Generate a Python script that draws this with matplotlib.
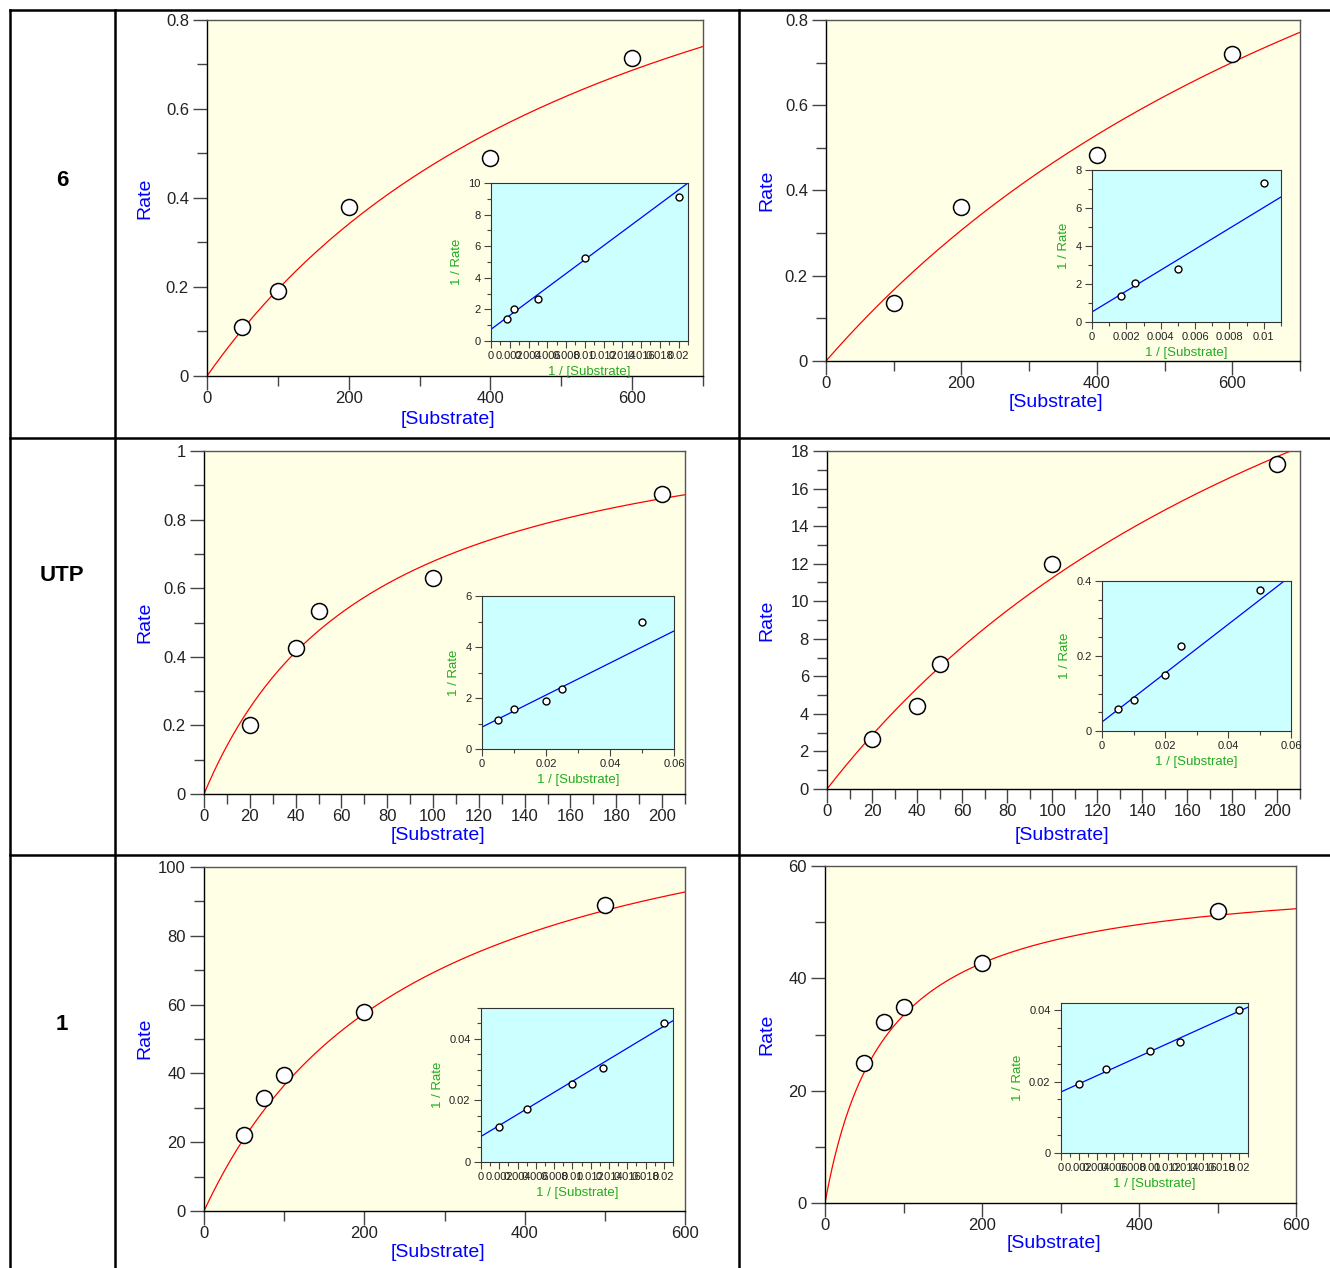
import numpy as np
import matplotlib
matplotlib.use("Agg")
import matplotlib.pyplot as plt
from matplotlib.ticker import MultipleLocator, FuncFormatter
from matplotlib.lines import Line2D

plt.rcParams['font.family'] = ['Liberation Sans', 'DejaVu Sans']

W, H = 1330, 1268

# ---------------- data ----------------
row_labels = ["6", "UTP", "1"]

s_6_left = [50, 100, 200, 400, 600]
v_6_left = [0.11, 0.19, 0.38, 0.49, 0.715]
s_6_right = [100, 200, 400, 600]
v_6_right = [0.137, 0.361, 0.483, 0.72]

s_utp_left = [20, 40, 50, 100, 200]
v_utp_left = [0.201, 0.426, 0.534, 0.63, 0.875]
s_utp_right = [20, 40, 50, 100, 200]
v_utp_right = [2.66, 4.42, 6.66, 11.98, 17.3]

s_1_left = [50, 75, 100, 200, 500]
v_1_left = [22.1, 32.8, 39.5, 57.8, 88.9]
s_1_right = [50, 75, 100, 200, 500]
v_1_right = [24.9, 32.2, 34.9, 42.7, 52.0]

# fitted Michaelis-Menten parameters (Vmax, Km)
fit_main = {
    "6L": (1.39, 614), "6R": (1.95, 1070),
    "UL": (1.18, 74), "UR": (41.7, 271),
    "1L": (134.0, 267), "1R": (59.1, 76.8),
}
# double-reciprocal lines (intercept, slope)
fit_inset = {
    "6L": (0.74, 441), "6R": (0.53, 550),
    "UL": (0.86, 62.8), "UR": (0.024, 6.5),
    "1L": (0.0083, 1.79), "1R": (0.0171, 1.13),
}

# ---------------- layout (pixels) ----------------
panels = [
    dict(key="6L", s=s_6_left, v=v_6_left, box=(207, 20, 703, 376), xlim=700, ylim=0.8,
         xmaj=200, xmin=100, ymaj=0.2, ymin=0.1,
         ibox=(491, 183, 688, 341), ixlim=0.021, iylim=10, ixmaj=0.002, ixmin=0.001, iymaj=2, iymin=1,
         xlab=(448, 411), ylab=(153, 198)),
    dict(key="6R", s=s_6_right, v=v_6_right, box=(826, 20, 1300, 361), xlim=700, ylim=0.8,
         xmaj=200, xmin=100, ymaj=0.2, ymin=0.1,
         ibox=(1092, 170, 1281, 322), ixlim=0.011, iylim=8, ixmaj=0.002, ixmin=0.001, iymaj=2, iymin=1,
         xlab=(1056, 394), ylab=(775, 190)),
    dict(key="UL", s=s_utp_left, v=v_utp_left, box=(204, 451, 685, 794), xlim=210, ylim=1.0,
         xmaj=20, xmin=10, ymaj=0.2, ymin=0.1,
         ibox=(482, 596, 674, 749), ixlim=0.06, iylim=6, ixmaj=0.02, ixmin=0.01, iymaj=2, iymin=1,
         xlab=(438, 827), ylab=(153, 622)),
    dict(key="UR", s=s_utp_right, v=v_utp_right, box=(827, 451, 1300, 789), xlim=210, ylim=18,
         xmaj=20, xmin=10, ymaj=2, ymin=1,
         ibox=(1102, 581, 1291, 731), ixlim=0.06, iylim=0.4, ixmaj=0.02, ixmin=0.01, iymaj=0.2, iymin=0.05,
         xlab=(1062, 827), ylab=(775, 620)),
    dict(key="1L", s=s_1_left, v=v_1_left, box=(204, 867, 685, 1211), xlim=600, ylim=100,
         xmaj=200, xmin=100, ymaj=20, ymin=10,
         ibox=(481, 1008, 673, 1162), ixlim=0.021, iylim=0.05, ixmaj=0.002, ixmin=0.001, iymaj=0.02, iymin=0.005,
         xlab=(438, 1244), ylab=(153, 1038)),
    dict(key="1R", s=s_1_right, v=v_1_right, box=(825, 866, 1296, 1203), xlim=600, ylim=60,
         xmaj=200, xmin=100, ymaj=20, ymin=10,
         ibox=(1061, 1003, 1248, 1153), ixlim=0.021, iylim=0.042, ixmaj=0.002, ixmin=0.001, iymaj=0.02, iymin=0.005,
         xlab=(1054, 1235), ylab=(775, 1034)),
]

YELLOW = '#FFFFE6'
CYAN = '#CCFFFF'
fmt = FuncFormatter(lambda x, p: '%g' % round(x, 6))


def rect(x0, y0, x1, y1):
    return [x0 / W, 1 - y1 / H, (x1 - x0) / W, (y1 - y0) / H]


fig = plt.figure(figsize=(W / 100, H / 100), dpi=100)
fig.patch.set_facecolor('white')

for p in panels:
    x0, y0, x1, y1 = p["box"]
    ax = fig.add_axes(rect(*p["box"]))
    ax.set_facecolor(YELLOW)
    ax.set_xlim(0, p["xlim"])
    ax.set_ylim(0, p["ylim"])
    vmax, km = fit_main[p["key"]]
    xs = np.linspace(0, p["xlim"], 400)
    ax.plot(xs, vmax * xs / (km + xs), color='red', lw=0.9, zorder=2)
    ax.plot(p["s"], p["v"], 'o', ms=11.5, mfc='white', mec='black', mew=1.1, zorder=3, clip_on=False)
    ax.xaxis.set_major_locator(MultipleLocator(p["xmaj"]))
    ax.xaxis.set_minor_locator(MultipleLocator(p["xmin"]))
    ax.yaxis.set_major_locator(MultipleLocator(p["ymaj"]))
    ax.yaxis.set_minor_locator(MultipleLocator(p["ymin"]))
    ax.xaxis.set_major_formatter(fmt)
    ax.yaxis.set_major_formatter(fmt)
    ax.tick_params(which='major', direction='out', length=10, width=1, color='#444444',
                   labelsize=12, labelcolor='#222222')
    ax.tick_params(axis='x', which='major', pad=1)
    ax.tick_params(axis='y', which='major', pad=3)
    ax.tick_params(which='minor', direction='out', length=7, width=1, color='#444444')
    for sp in ('left', 'bottom'):
        ax.spines[sp].set_color('black')
        ax.spines[sp].set_linewidth(1.0)
    for sp in ('top', 'right'):
        ax.spines[sp].set_color('#555555')
        ax.spines[sp].set_linewidth(1.0)
    ax.set_xlabel('[Substrate]', color='#0000FF', fontsize=14)
    ax.set_ylabel('Rate', color='#0000FF', fontsize=14)
    lx, ly = p["xlab"]
    ax.xaxis.set_label_coords((lx - x0) / (x1 - x0), (y1 - ly) / (y1 - y0))
    rx, ry = p["ylab"]
    ax.yaxis.set_label_coords((rx - x0) / (x1 - x0), (y1 - ry) / (y1 - y0))

    # inset: double reciprocal plot
    ia = fig.add_axes(rect(*p["ibox"]))
    ia.set_facecolor(CYAN)
    ia.set_xlim(0, p["ixlim"])
    ia.set_ylim(0, p["iylim"])
    a, b = fit_inset[p["key"]]
    ixs = np.linspace(0, p["ixlim"], 50)
    ia.plot(ixs, a + b * ixs, color='#0000FF', lw=0.9, zorder=2)
    inv_s = 1.0 / np.asarray(p["s"], float)
    inv_v = 1.0 / np.asarray(p["v"], float)
    ia.plot(inv_s, inv_v, 'o', ms=5, mfc='white', mec='black', mew=1.0, zorder=3, clip_on=False)
    ia.xaxis.set_major_locator(MultipleLocator(p["ixmaj"]))
    ia.xaxis.set_minor_locator(MultipleLocator(p["ixmin"]))
    ia.yaxis.set_major_locator(MultipleLocator(p["iymaj"]))
    ia.yaxis.set_minor_locator(MultipleLocator(p["iymin"]))
    ia.xaxis.set_major_formatter(fmt)
    ia.yaxis.set_major_formatter(fmt)
    ia.tick_params(which='major', direction='out', length=5, width=0.8, color='#444444',
                   labelsize=8, labelcolor='#222222', pad=2.5)
    ia.tick_params(which='minor', direction='out', length=3, width=0.8, color='#444444')
    for sp in ia.spines.values():
        sp.set_color('#333333')
        sp.set_linewidth(0.8)
    ia.set_xlabel('1 / [Substrate]', color='#22AA22', fontsize=9.5, labelpad=3.5)
    ia.set_ylabel('1 / Rate', color='#22AA22', fontsize=9.5, labelpad=4)

# ---------------- table grid ----------------
def hline(y, x0=10, x1=1330):
    fig.add_artist(Line2D([x0 / W, x1 / W], [1 - y / H, 1 - y / H], color='black', lw=1.8))


def vline(x, y0=10, y1=1268):
    fig.add_artist(Line2D([x / W, x / W], [1 - y0 / H, 1 - y1 / H], color='black', lw=1.8))


hline(10)
hline(438)
hline(855)
vline(10)
vline(115)
vline(739)

for lab, yc in zip(row_labels, [180, 575, 1025]):
    fig.text(62 / W, 1 - yc / H, lab, ha='center', va='center', fontsize=16, fontweight='bold')

fig.savefig('out.png', dpi=100)
